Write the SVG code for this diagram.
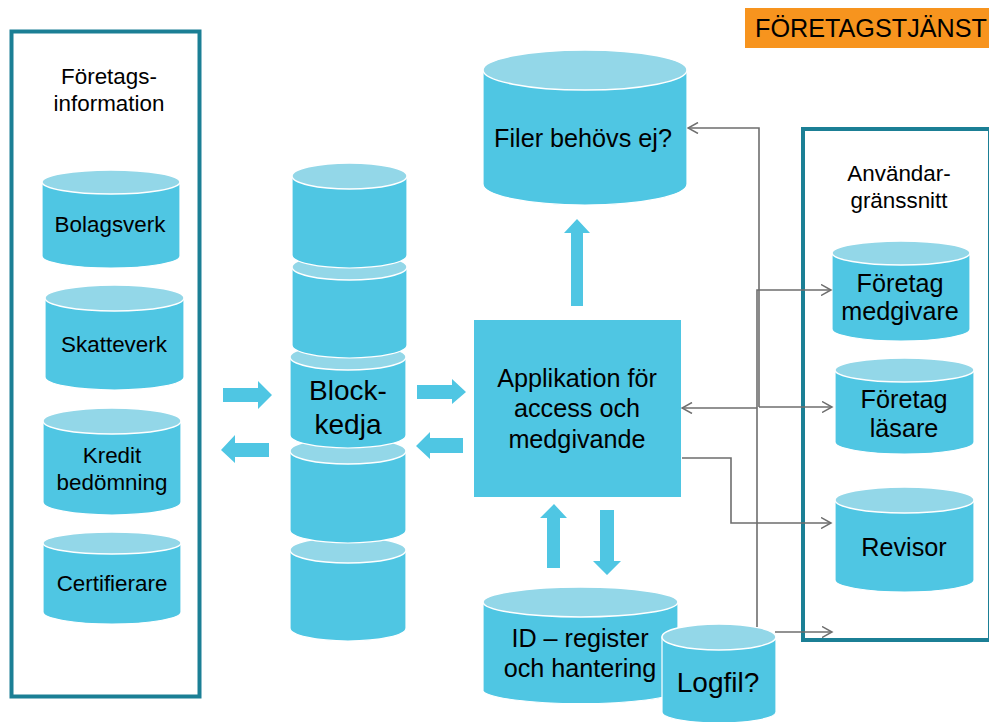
<svg xmlns="http://www.w3.org/2000/svg" width="989" height="722" viewBox="0 0 989 722">
<style>
.frame{fill:#fff;stroke:#1B7F95;stroke-width:4}
.body{fill:#4FC6E3;stroke:#fff;stroke-width:1.2}
.top{fill:#93D7E8;stroke:#fff;stroke-width:1.5}
.block{fill:#4FC6E3}
.t{font-family:"Liberation Sans",Arial,sans-serif;fill:#000;text-anchor:middle}
.sm{font-size:22.4px}.md{font-size:25.2px}.lg{font-size:28px}
.c{fill:none;stroke:#6E6E6E;stroke-width:1.6}
</style>
<defs>
<marker id="a" markerWidth="12" markerHeight="12" refX="10.500" refY="6" orient="auto" markerUnits="userSpaceOnUse"><path d="M0.500 0.500L10.500 6L0.500 11.500" fill="none" stroke="#6E6E6E" stroke-width="1.500"/></marker>
</defs>
<g id="frame-left"><rect class="frame" x="11.500" y="31.500" width="188" height="665"/><text class="t sm" x="109" y="84">Företags-</text><text class="t sm" x="109" y="111">information</text></g>
<g id="frame-right"><rect class="frame" x="803" y="129" width="187" height="511"/><text class="t sm" x="899" y="181">Användar-</text><text class="t sm" x="899" y="208">gränssnitt</text></g>
<g id="service-tag"><rect x="745" y="8" width="244" height="40" fill="#F7941E"/><text class="t md" x="871" y="37">FÖRETAGSTJÄNST</text></g>

<g id="bolagsverk"><path class="body" d="M42 182V256A69 12 0 0 0 180 256V182Z"/><ellipse class="top" cx="111" cy="182" rx="69" ry="12"/><text class="t sm" x="110" y="232">Bolagsverk</text></g>
<g id="skatteverk"><path class="body" d="M45 298V377A69.500 13 0 0 0 184 377V298Z"/><ellipse class="top" cx="114.500" cy="298" rx="69.500" ry="13"/><text class="t sm" x="114" y="352">Skatteverk</text></g>
<g id="kredit"><path class="body" d="M43 421V502A69 13 0 0 0 181 502V421Z"/><ellipse class="top" cx="112" cy="421" rx="69" ry="13"/><text class="t sm" x="112" y="463">Kredit</text><text class="t sm" x="112" y="490">bedömning</text></g>
<g id="certifierare"><path class="body" d="M43 543V612A69 12 0 0 0 181 612V543Z"/><ellipse class="top" cx="112" cy="543" rx="69" ry="11"/><text class="t sm" x="112" y="591">Certifierare</text></g>

<g id="block-5"><path class="body" d="M290 550V628A58 13 0 0 0 406 628V550Z"/><ellipse class="top" cx="348" cy="550" rx="58" ry="13"/></g>
<g id="block-4"><path class="body" d="M290 451V530A58 13 0 0 0 406 530V451Z"/><ellipse class="top" cx="348" cy="451" rx="58" ry="13"/></g>
<g id="block-3"><path class="body" d="M290 357V435A58 13 0 0 0 406 435V357Z"/><ellipse class="top" cx="348" cy="357" rx="58" ry="13"/><text class="t lg" x="348" y="400">Block-</text><text class="t lg" x="348" y="434">kedja</text></g>
<g id="block-2"><path class="body" d="M292 267V345A57.500 13 0 0 0 407 345V267Z"/><ellipse class="top" cx="349.500" cy="267" rx="57.500" ry="13"/></g>
<g id="block-1"><path class="body" d="M292 176V255A57.500 13 0 0 0 407 255V176Z"/><ellipse class="top" cx="349.500" cy="176" rx="57.500" ry="13"/></g>

<g id="filer"><path class="body" d="M483 70V184A102 21 0 0 0 687 184V70Z"/><ellipse class="top" cx="585" cy="70" rx="102" ry="20"/><text class="t md" x="583" y="147">Filer behövs ej?</text></g>
<g id="applikation"><rect class="block" x="474" y="320" width="207" height="177"/><text class="t md" x="577" y="387">Applikation för</text><text class="t md" x="577" y="417">access och</text><text class="t md" x="577" y="448">medgivande</text></g>
<g id="id-register"><path class="body" d="M483 602V691A98 14 0 0 0 678 691V602Z"/><ellipse class="top" cx="580.500" cy="602" rx="97.500" ry="15"/><text class="t md" x="580" y="647">ID – register</text><text class="t md" x="580" y="677">och hantering</text></g>
<g id="logfil"><path class="body" d="M662 637V712A57 11 0 0 0 776 712V637Z"/><ellipse class="top" cx="719" cy="637" rx="57" ry="13"/><text class="t lg" x="718" y="692">Logfil?</text></g>

<g id="medgivare"><path class="body" d="M832 253V329A69 12 0 0 0 970 329V253Z"/><ellipse class="top" cx="901" cy="253" rx="69" ry="12"/><text class="t md" x="900" y="292">Företag</text><text class="t md" x="900" y="320">medgivare</text></g>
<g id="lasare"><path class="body" d="M835 370V442A69.500 12 0 0 0 974 442V370Z"/><ellipse class="top" cx="904.500" cy="370" rx="69.500" ry="12"/><text class="t md" x="904" y="408">Företag</text><text class="t md" x="904" y="437">läsare</text></g>
<g id="revisor"><path class="body" d="M835 500V580A69.500 12 0 0 0 974 580V500Z"/><ellipse class="top" cx="904.500" cy="500" rx="69.500" ry="13"/><text class="t md" x="904" y="556">Revisor</text></g>

<g id="connectors">
<path class="block" d="M223 388H258V381L272 395L258 409V402H223Z"/>
<path class="block" d="M269 443H235V435L221 450L235 463V457H269Z"/>
<path class="block" d="M417 385H452V379L466 392L452 404V399H417Z"/>
<path class="block" d="M463 438H430V432L416 446L430 459V453H463Z"/>
<path class="block" d="M571 306V233H564L577 219L590 233H583V306Z"/>
<path class="block" d="M547 568V518H540L554 504L567 518H560V568Z"/>
<path class="block" d="M600 510H614V561H621L607 575L593 561H600Z"/>
<path class="c" marker-end="url(#a)" d="M759 407V128H688"/>
<path class="c" marker-end="url(#a)" d="M759 407H832"/>
<path class="c" marker-end="url(#a)" d="M757 627V290H831"/>
<path class="c" marker-end="url(#a)" d="M757 408H682"/>
<path class="c" marker-end="url(#a)" d="M682 458H731V523H831"/>
<path class="c" marker-end="url(#a)" d="M775 632H832"/>
</g>
</svg>
